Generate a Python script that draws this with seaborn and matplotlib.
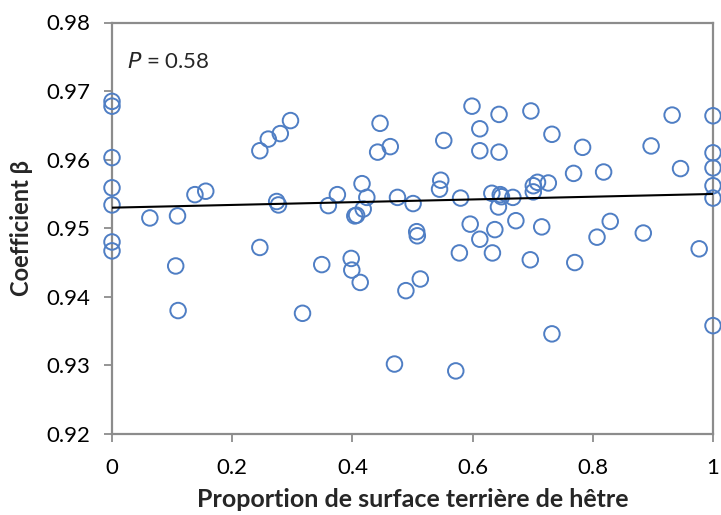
import matplotlib
matplotlib.use("Agg")
import matplotlib.pyplot as plt
import seaborn as sns
import pandas as pd

# Data
prop_hetre = [
    0.0, 0.0, 0.0, 0.0, 0.0, 0.0, 0.0,
    0.063, 0.109, 0.106, 0.110, 0.138, 0.156,
    0.246, 0.246, 0.260, 0.280, 0.297, 0.274, 0.277,
    0.317, 0.349, 0.360, 0.375, 0.398, 0.399, 0.404, 0.407, 0.413,
    0.416, 0.418, 0.424, 0.442, 0.446, 0.463, 0.470, 0.475, 0.489,
    0.501, 0.507, 0.508, 0.513, 0.545, 0.547, 0.552, 0.572, 0.578,
    0.580, 0.596, 0.599, 0.612, 0.612, 0.612, 0.632, 0.633, 0.637,
    0.643, 0.644, 0.644, 0.646, 0.648, 0.667, 0.672, 0.696, 0.697,
    0.701, 0.701, 0.708, 0.715, 0.726, 0.732, 0.732, 0.768, 0.770,
    0.783, 0.807, 0.818, 0.829, 0.884, 0.897, 0.932, 0.946, 0.977,
    1.0, 1.0, 1.0, 1.0, 1.0, 1.0,
]
coef_beta = [
    0.9685, 0.9678, 0.9603, 0.9559, 0.9534, 0.9480, 0.9467,
    0.9515, 0.9518, 0.9445, 0.9380, 0.9549, 0.9554,
    0.9613, 0.9472, 0.9630, 0.9638, 0.9657, 0.9539, 0.9534,
    0.9376, 0.9447, 0.9533, 0.9549, 0.9456, 0.9439, 0.9518, 0.9519, 0.9421,
    0.9565, 0.9528, 0.9545, 0.9611, 0.9653, 0.9619, 0.9302, 0.9545, 0.9409,
    0.9536, 0.9495, 0.9489, 0.9426, 0.9557, 0.9570, 0.9628, 0.9292, 0.9464,
    0.9544, 0.9506, 0.9678, 0.9645, 0.9613, 0.9484, 0.9551, 0.9464, 0.9498,
    0.9531, 0.9666, 0.9611, 0.9549, 0.9546, 0.9545, 0.9511, 0.9454, 0.9671,
    0.9562, 0.9553, 0.9567, 0.9502, 0.9566, 0.9637, 0.9346, 0.9580, 0.9450,
    0.9618, 0.9487, 0.9582, 0.9510, 0.9493, 0.9620, 0.9665, 0.9587, 0.9470,
    0.9664, 0.9610, 0.9588, 0.9562, 0.9544, 0.9358,
]
fit_x = [0.0, 1.0]
fit_y = [0.9530, 0.9550]

x_ticks = [0, 0.2, 0.4, 0.6, 0.8, 1]
x_ticklabels = ["0", "0.2", "0.4", "0.6", "0.8", "1"]
y_ticks = [0.92, 0.93, 0.94, 0.95, 0.96, 0.97, 0.98]
y_ticklabels = ["0.92", "0.93", "0.94", "0.95", "0.96", "0.97", "0.98"]

df = pd.DataFrame({"x": prop_hetre, "y": coef_beta})
fit = pd.DataFrame({"x": fit_x, "y": fit_y})

sns.set_theme(style="white")
plt.rcParams["font.family"] = ["Lato", "DejaVu Sans"]

fig = plt.figure(figsize=(7.21, 5.15), dpi=100)
ax = fig.add_axes([112 / 721, 1 - 434 / 515, 601 / 721, (434 - 22.5) / 515])

sns.scatterplot(data=df, x="x", y="y", ax=ax, marker="o", s=125,
                facecolors="none", edgecolor="#4F7EC4", linewidth=1.4,
                clip_on=False, zorder=3)
sns.lineplot(data=fit, x="x", y="y", ax=ax, color="black", linewidth=1.5,
             zorder=4)

ax.set_xlim(0, 1)
ax.set_ylim(0.92, 0.98)
ax.set_xticks(x_ticks)
ax.set_xticklabels(x_ticklabels)
ax.set_yticks(y_ticks)
ax.set_yticklabels(y_ticklabels)

spine_col = "#8C8C8C"
for side in ["left", "bottom", "top", "right"]:
    ax.spines[side].set_visible(True)
    ax.spines[side].set_color(spine_col)
    ax.spines[side].set_linewidth(1.6)

ax.tick_params(axis="both", which="major", direction="out", length=5.5,
               width=1.3, color=spine_col, labelsize=16, labelcolor="black")
ax.tick_params(axis="x", bottom=True, pad=12)
ax.tick_params(axis="y", left=True, pad=10)

ax.set_xlabel("Proportion de surface terrière de hêtre", fontsize=18,
              fontweight="bold", labelpad=7)
ax.set_ylabel("Coefficient β", fontsize=17, fontweight="bold", labelpad=10)

ax.text(0.025, 0.9743, r"$P$ = 0.58", fontsize=16, va="center", ha="left")

fig.savefig("out.png", dpi=100)
